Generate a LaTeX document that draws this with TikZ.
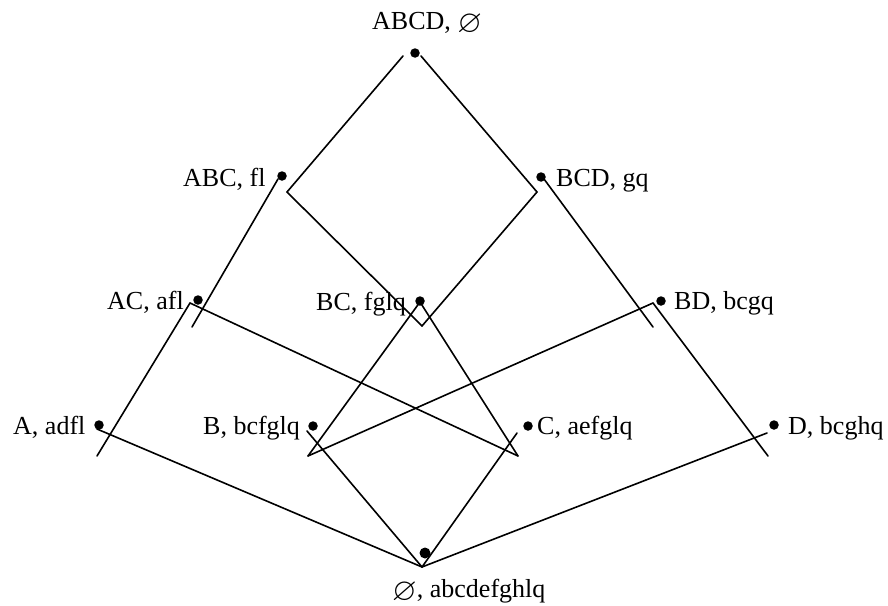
\documentclass[tikz,border=0pt]{standalone}
\usepackage{amssymb}
\usepackage{fontspec}
\setmainfont{Liberation Serif}
\newcommand{\bigempty}{\raisebox{-0.12em}{\scalebox{1.22}{$\varnothing$}}}
\begin{document}
\begin{tikzpicture}[x=1pt,y=-1pt,
  dot/.style={circle,fill=black,inner sep=0pt,minimum size=9.5pt},
  bigdot/.style={dot,minimum size=11pt},
  lab/.style={anchor=base west,inner sep=0pt,font=\fontsize{26}{30}\selectfont},
  link/.style={line width=1.6pt,line cap=round}]
\useasboundingbox (0,0) rectangle (888,605);

% concept dots
\node[dot] (T)   at (415,53)  {};
\node[dot] (ABC) at (282,176) {};
\node[dot] (BCD) at (541,177) {};
\node[dot] (AC)  at (198,300) {};
\node[dot] (BC)  at (420,301) {};
\node[dot] (BD)  at (661,301) {};
\node[dot] (A)   at (99,425)  {};
\node[dot] (B)   at (313,426) {};
\node[dot] (C)   at (528,426) {};
\node[dot] (D)   at (774,425) {};
\node[bigdot] (E) at (425,553) {};

% end points of the lattice lines
\coordinate (T-l)    at (403,56);
\coordinate (T-r)    at (421,56);
\coordinate (ABC-in) at (287,192);
\coordinate (ABC-out) at (278,179);
\coordinate (BCD-in) at (537,192);
\coordinate (BCD-out) at (544,179);
\coordinate (AC-in)  at (192,327);
\coordinate (AC-out) at (190,303);
\coordinate (BC-in)  at (422,326);
\coordinate (BC-out) at (420,302);
\coordinate (BD-in)  at (653,327);
\coordinate (BD-out) at (653,303);
\coordinate (A-in)   at (97,456);
\coordinate (A-out)  at (97,429);
\coordinate (B-in)   at (308,456);
\coordinate (B-out)  at (307,431);
\coordinate (C-in)   at (518,456);
\coordinate (C-out)  at (517,433);
\coordinate (D-in)   at (768,456);
\coordinate (D-out)  at (767,433);
\coordinate (E-in)   at (422,567);

% lattice lines
\draw[link] (T-l) -- (ABC-in);
\draw[link] (T-r) -- (BCD-in);
\draw[link] (ABC-in) -- (BC-in);
\draw[link] (BCD-in) -- (BC-in);
\draw[link] (ABC-out) -- (AC-in);
\draw[link] (BCD-out) -- (BD-in);
\draw[link] (AC-out) -- (A-in);
\draw[link] (AC-out) -- (C-in);
\draw[link] (BC-out) -- (B-in);
\draw[link] (BC-out) -- (C-in);
\draw[link] (BD-out) -- (B-in);
\draw[link] (BD-out) -- (D-in);
\draw[link] (A-out) -- (E-in);
\draw[link] (B-out) -- (E-in);
\draw[link] (C-out) -- (E-in);
\draw[link] (D-out) -- (E-in);

% labels
\node[lab] (lT)   at (372,29)  {ABCD, \bigempty};
\node[lab] (lABC) at (183,186) {ABC, fl};
\node[lab] (lBCD) at (556,186) {BCD, gq};
\node[lab] (lAC)  at (107,309) {AC, afl};
\node[lab] (lBC)  at (316,310) {BC, fglq};
\node[lab] (lBD)  at (674,309) {BD, bcgq};
\node[lab] (lA)   at (13,434)  {A, adfl};
\node[lab] (lB)   at (203,434) {B, bcfglq};
\node[lab] (lC)   at (537,434) {C, aefglq};
\node[lab] (lD)   at (788,434) {D, bcghq};
\node[lab] (lE)   at (392,597) {\bigempty, abcdefghlq};
\end{tikzpicture}
\end{document}
